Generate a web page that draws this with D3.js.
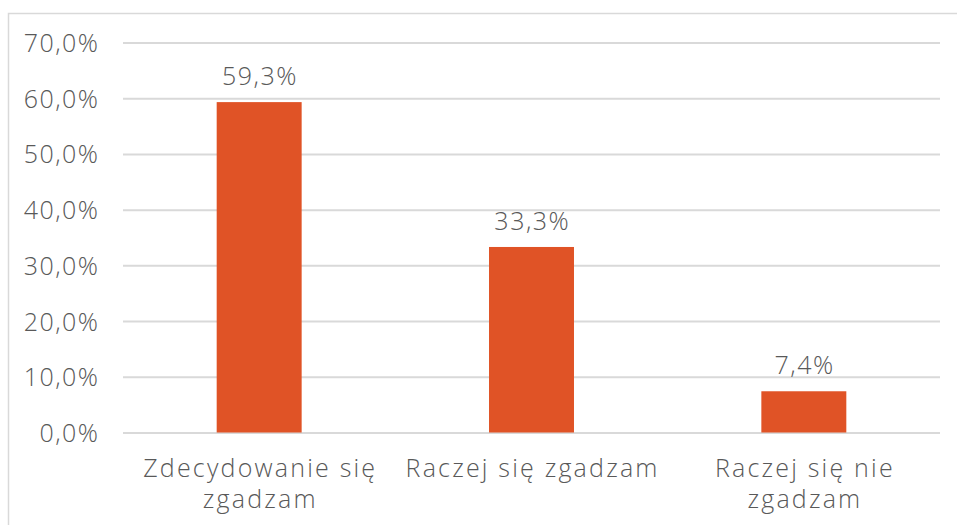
<!DOCTYPE html>
<html>
<head>
<meta charset="utf-8">
<script src="https://cdn.jsdelivr.net/npm/d3@7"></script>
<style>
  body { margin: 0; background: #fff; }
  svg { display: block; }
</style>
</head>
<body>
<svg id="chart" width="957" height="525"></svg>
<script>
const categories = ["Zdecydowanie się zgadzam", "Raczej się zgadzam", "Raczej się nie zgadzam"];
const values = [59.3, 33.3, 7.4];
const yTicks = [0, 10, 20, 30, 40, 50, 60, 70];

const width = 957;
const height = 525;
const margin = { top: 42.5, right: 17, bottom: 92.5, left: 123 };
const fontFamily = "'Open Sans', 'DejaVu Sans', sans-serif";
const textColor = "#595959";

const svg = d3.select("#chart");

// chart border (only top and left edges visible in frame)
svg.append("rect")
    .attr("x", 8.5)
    .attr("y", 13.5)
    .attr("width", 960)
    .attr("height", 520)
    .attr("fill", "none")
    .attr("stroke", "#d9d9d9")
    .attr("stroke-width", 1.5);

const x = d3.scaleBand()
    .domain(categories)
    .range([margin.left, width - margin.right])
    .paddingInner(0.688)
    .paddingOuter(0.344);

const y = d3.scaleLinear()
    .domain([0, 70])
    .range([height - margin.bottom, margin.top]);

const fmt = v => d3.format(".1f")(v).replace(".", ",") + "%";

// gridlines + y labels
const gy = svg.append("g")
    .attr("transform", `translate(${margin.left},0)`)
    .call(d3.axisLeft(y).tickValues(yTicks).tickFormat(fmt)
        .tickSize(-(width - margin.left - margin.right)).tickPadding(23.5));
gy.select(".domain").remove();
gy.selectAll(".tick line").attr("stroke", "#d9d9d9").attr("stroke-width", 2);
gy.selectAll(".tick text")
    .attr("fill", textColor)
    .attr("dy", "0.36em")
    .style("font-family", fontFamily)
    .style("font-weight", 300)
    .style("font-size", "25px")
    .style("letter-spacing", "1.5px");

// bars
svg.append("g")
    .selectAll("rect")
    .data(values)
    .join("rect")
    .attr("x", (d, i) => x(categories[i]))
    .attr("y", d => y(d))
    .attr("width", x.bandwidth())
    .attr("height", d => y(0) - y(d))
    .attr("fill", "#e05326");

// value labels
svg.append("g")
    .selectAll("text")
    .data(values)
    .join("text")
    .attr("x", (d, i) => x(categories[i]) + x.bandwidth() / 2 + 0.8)
    .attr("y", d => y(d) - 17)
    .attr("text-anchor", "middle")
    .attr("fill", textColor)
    .style("font-family", fontFamily)
    .style("font-weight", 300)
    .style("font-size", "25px")
    .style("letter-spacing", "1.5px")
    .text(fmt);

// category labels (wrapped)
const labelLines = {
    "Zdecydowanie się zgadzam": ["Zdecydowanie się", "zgadzam"],
    "Raczej się zgadzam": ["Raczej się zgadzam"],
    "Raczej się nie zgadzam": ["Raczej się nie", "zgadzam"]
};

const xl = svg.append("g")
    .selectAll("text")
    .data(categories)
    .join("text")
    .attr("x", d => x(d) + x.bandwidth() / 2)
    .attr("y", 477)
    .attr("text-anchor", "middle")
    .attr("fill", textColor)
    .style("font-family", fontFamily)
    .style("font-weight", 300)
    .style("font-size", "25px")
    .style("letter-spacing", "2.2px");

xl.selectAll("tspan")
    .data(d => labelLines[d].map(t => ({ t, c: d })))
    .join("tspan")
    .attr("x", d => x(d.c) + x.bandwidth() / 2 + 1.1)
    .attr("dy", (d, i) => i === 0 ? 0 : 31)
    .text(d => d.t);
</script>
</body>
</html>
